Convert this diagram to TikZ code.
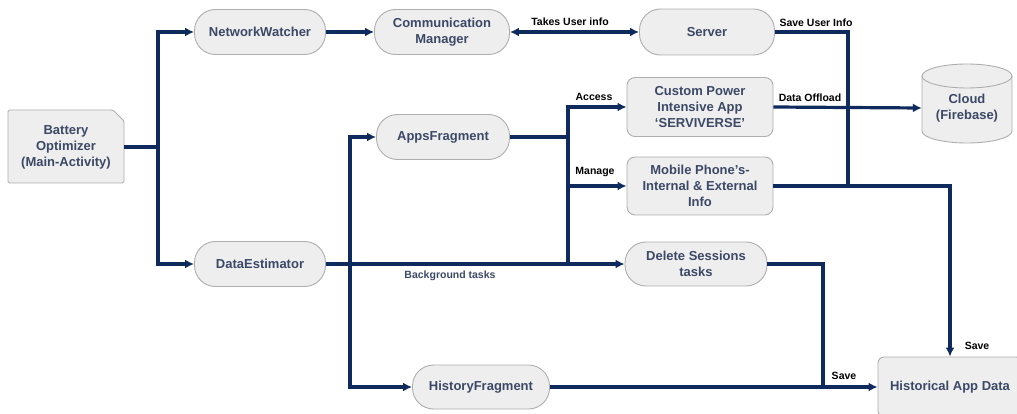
\documentclass[tikz,border=0pt]{standalone}
\usepackage{fontspec}
\setmainfont{Liberation Sans}
\usetikzlibrary{arrows.meta}
\definecolor{navy}{HTML}{0F2A5C}
\definecolor{boxfill}{HTML}{EEEEEE}
\definecolor{boxline}{HTML}{AEAEAE}
\definecolor{txt}{HTML}{3B4866}
\tikzset{
  base/.style={fill=boxfill, draw=boxline, line width=0.9pt, text=txt, align=center,
     font=\bfseries\fontsize{13}{16}\selectfont, inner sep=0pt},
  stadium/.style={base, rounded corners=21pt, minimum height=45pt},
  rbox/.style={base, rounded corners=8pt},
  conn/.style={draw=navy, line width=3.2pt},
  arr/.style={conn, -{Latex[length=9pt,width=9pt]}},
  darr/.style={conn, {Latex[length=9pt,width=9pt]}-{Latex[length=9pt,width=9pt]}},
  lbl/.style={font=\bfseries\fontsize{10.5}{12}\selectfont, text=black, inner sep=0pt},
  plain/.style={inner sep=0pt, text=txt, align=center, font=\bfseries\fontsize{13}{16}\selectfont}
}
\begin{document}
\begin{tikzpicture}[x=1pt,y=1pt]
\useasboundingbox (0,0) rectangle (1017,-414);

% Battery optimizer (snipped corner box)
\filldraw[fill=boxfill, draw=boxline, line width=0.9pt, rounded corners=1.5pt]
  (8,-110) -- (113,-110) -- (124,-121) -- (124,-183) -- (8,-183) -- cycle;
\node[plain, minimum width=116pt, minimum height=73pt] (bat) at (66,-147) {Battery\\Optimizer\\(Main-Activity)};

% Cloud cylinder
\filldraw[fill=boxfill, draw=boxline, line width=0.9pt]
  (922,-76) -- (922,-131) arc[start angle=180, end angle=360, x radius=45, y radius=12]
  -- (1012,-76) arc[start angle=0, end angle=180, x radius=45, y radius=12] -- cycle;
\draw[draw=boxline, line width=0.9pt] (922,-76) arc[start angle=180, end angle=360, x radius=45, y radius=12];
\node[plain, minimum width=90pt, minimum height=60pt] (cloud) at (967,-108) {Cloud\\(Firebase)};

% Nodes
\node[stadium, minimum width=131pt] (nw) at (260,-32) {NetworkWatcher};
\node[stadium, minimum width=135pt] (cm) at (442,-32) {Communication\\Manager};
\node[stadium, minimum width=135pt, minimum height=46pt] (srv) at (707,-32) {Server};
\node[stadium, minimum width=133pt] (apps) at (443,-137) {AppsFragment};
\node[rbox, minimum width=146pt, minimum height=59pt] (cpa) at (700,-107) {Custom Power\\Intensive App\\`SERVIVERSE'};
\node[rbox, minimum width=146pt, minimum height=58pt] (mob) at (700,-186) {Mobile Phone's-\\Internal \& External\\Info};
\node[stadium, minimum width=131pt] (de) at (260,-264) {DataEstimator};
\node[stadium, minimum width=142pt, minimum height=44pt] (del) at (696,-264) {Delete Sessions\\tasks};
\node[stadium, minimum width=137pt, minimum height=44pt] (hf) at (481,-387) {HistoryFragment};
\node[rbox, rounded corners=6pt, minimum width=144pt, minimum height=60pt] (had) at (950,-387) {Historical App Data};

% Junction coordinates
\coordinate (jB) at (158,-147);
\coordinate (jS) at (848,-186);
\coordinate (jA) at (568,-137);
\coordinate (jAb) at (568,-264);
\coordinate (jE) at (350,-264);
\coordinate (jD) at (823,-387);

% Connectors
\draw[conn] (bat.east) -- (jB);
\draw[arr] (jB) |- (nw.west);
\draw[arr] (jB) |- (de.west);
\draw[arr] (nw.east) -- (cm.west);
\draw[darr] (cm.east) -- (srv.west);
\draw[conn] (srv.east) -| (jS);
\draw[arr] (cpa.east) -- (cloud.west);
\draw[arr] (mob.east) -| (had.north);
\draw[conn] (apps.east) -- (jA);
\draw[arr] (jA) |- (cpa.west);
\draw[arr] (jA) |- (mob.west);
\draw[conn] (jA) -- (jAb);
\draw[arr] (de.east) -- (del.west);
\draw[arr] (jE) |- (apps.west);
\draw[arr] (jE) |- (hf.west);
\draw[conn] (del.east) -| (jD);
\draw[arr] (hf.east) -- (had.west);

% Labels
\node[lbl] (l1) at (570,-22) {Takes User info};
\node[lbl] (l2) at (816,-23) {Save User Info};
\node[lbl] (l3) at (594,-97) {Access};
\node[lbl] (l4) at (595,-172) {Manage};
\node[lbl] (l5) at (810,-98) {Data Offload};
\node[lbl, text=txt] (l6) at (450,-276) {Background tasks};
\node[lbl] (l7) at (977,-346) {Save};
\node[lbl] (l8) at (844,-376) {Save};
\end{tikzpicture}
\end{document}
